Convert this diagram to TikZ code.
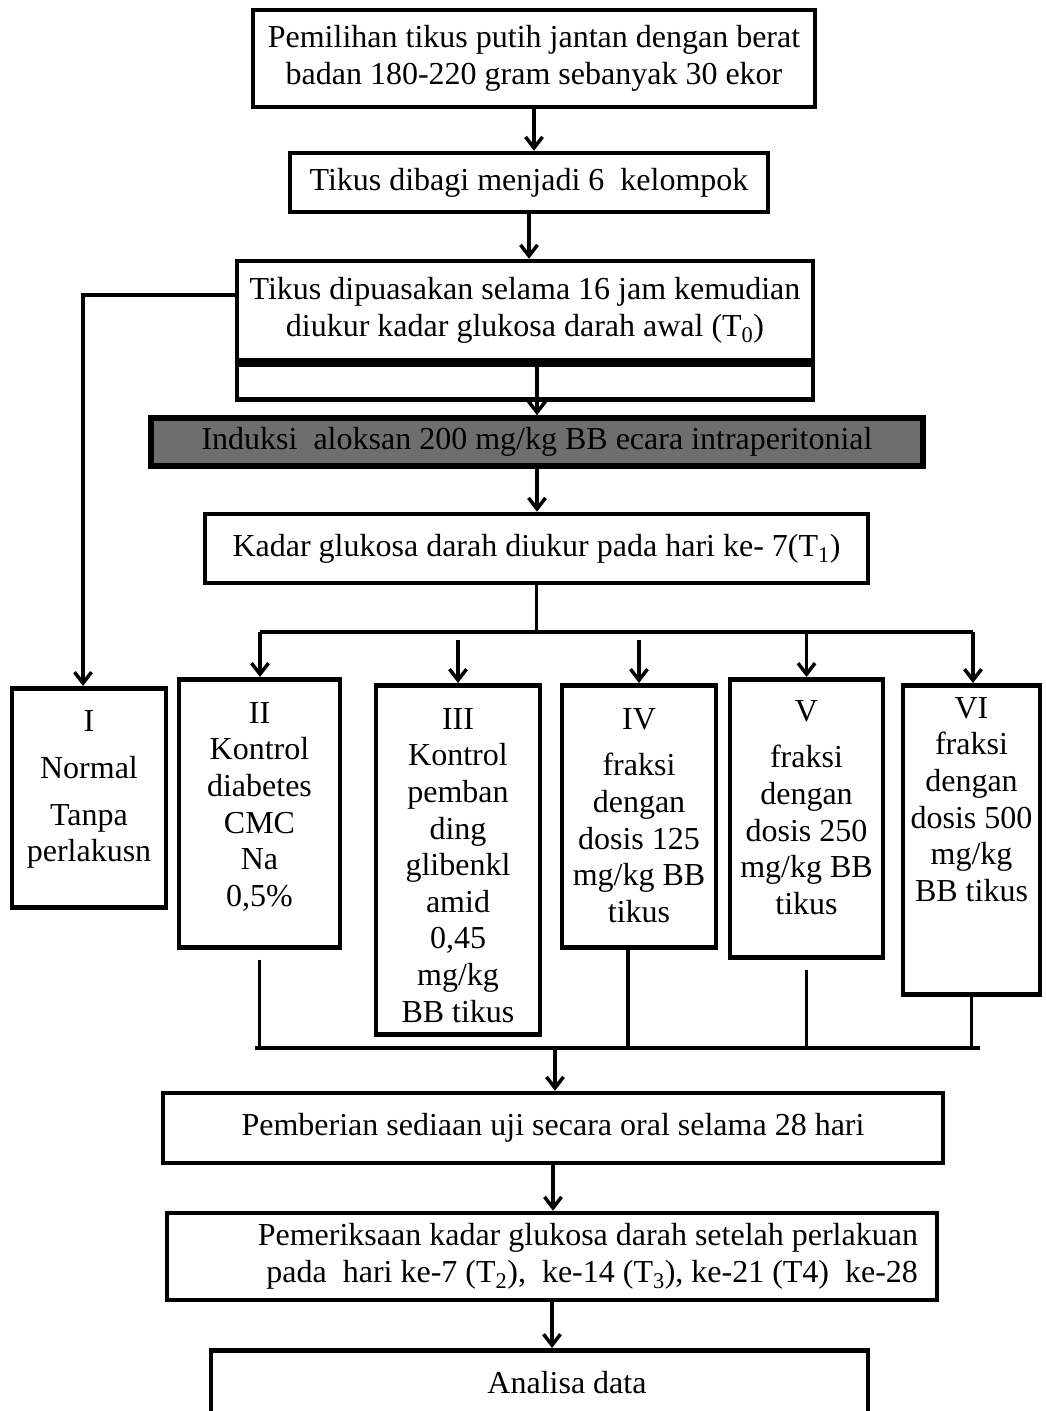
\documentclass[tikz,border=0pt]{standalone}
\usepackage{fontspec}
\setmainfont{Liberation Serif}
\usepackage{tikz}
\usetikzlibrary{arrows.meta}
\definecolor{induksigray}{HTML}{6E6E6E}
% text of a group box, set from the top: height, width, first baseline, lines
\newcommand{\grptext}[4]{\parbox[c][#1][t]{#2}{\centering\rule{0pt}{#3}#4}}
\tikzset{
    every node/.style={ % Same font for every box
        font=\fontsize{32}{36.6}\selectfont
    },
    box/.style={ % Sets the properties for each box
        draw,
        line width=4.5pt,
        align=center,
        inner sep=0pt
    },
    grpbox/.style={ % the six groups hang from their top
        box,
        anchor=north
    },
    flow/.style={ % Sets the properties for each connector
        draw,
        line width=3.5pt
    },
    >={Straight Barb[length=11pt,width=17pt]}
}

\begin{document}
\begin{tikzpicture}[x=1pt, y=-1pt]
    \clip (0,0) rectangle (1045,1411);

    \node[box, minimum width=562pt, minimum height=97pt] (sel) at (534,58.5) {Pemilihan tikus putih jantan dengan berat\\badan 180-220 gram sebanyak 30 ekor};
    \node[box, minimum width=478pt, minimum height=59pt] (bagi) at (529,182.5) {Tikus dibagi menjadi 6\ \ kelompok};
    \node[box, minimum width=576pt, minimum height=99pt] (puasa) at (525,310.5) {Tikus dipuasakan selama 16 jam kemudian\\diukur kadar glukosa darah awal (T\textsubscript{0})};
    \node[box, minimum width=576pt, minimum height=35pt, anchor=north] (puasab) at (puasa.south) {};
    \node[box, fill=induksigray, line width=5.5pt, minimum width=772pt, minimum height=48pt] (induksi) at (537,442) {Induksi\ \ aloksan 200 mg/kg BB ecara intraperitonial};
    \node[box, minimum width=663pt, minimum height=69pt] (kadar) at (536.5,548.5) {Kadar glukosa darah diukur pada hari ke- 7(T\textsubscript{1})};

    % groups
    \node[grpbox] (g1) at (89,686) {\grptext{219pt}{154pt}{43pt}{I\\[10.4pt]Normal\\[10.4pt]Tanpa\\perlakusn}};
    \node[grpbox] (g2) at (259.5,677) {\grptext{268pt}{161pt}{44pt}{II\\Kontrol\\diabetes\\CMC\\Na\\0,5\%}};
    \node[grpbox] (g3) at (458,683) {\grptext{349pt}{164pt}{44pt}{III\\Kontrol\\pemban\\ding\\glibenkl\\amid\\0,45\\mg/kg\\BB tikus}};
    \node[grpbox] (g4) at (639,683) {\grptext{262pt}{154pt}{44pt}{IV\\[10pt]fraksi\\dengan\\dosis 125\\mg/kg BB\\tikus}};
    \node[grpbox] (g5) at (806.5,677) {\grptext{278pt}{153pt}{42pt}{V\\[10pt]fraksi\\dengan\\dosis 250\\mg/kg BB\\tikus}};
    \node[grpbox] (g6) at (971.5,683) {\grptext{309pt}{137pt}{33pt}{VI\\fraksi\\dengan\\dosis 500\\mg/kg\\BB tikus}};

    \node[box, minimum width=780pt, minimum height=70pt] (beri) at (553,1128) {Pemberian sediaan uji secara oral selama 28 hari};
    \node[box, minimum width=770pt, minimum height=87pt] (periksa) at (552,1256.5) {\parbox{732pt}{\raggedleft Pemeriksaan kadar glukosa darah setelah perlakuan\\pada\ \ hari ke-7 (T\textsubscript{2}),\ \ ke-14 (T\textsubscript{3}), ke-21 (T4)\ \ ke-28}};
    \node[grpbox] (analisa) at (539.5,1348) {\grptext{80pt}{657pt}{43pt}{\hspace*{55pt}Analisa data}};

    \coordinate (lft) at (83,295);
    \coordinate (cab) at (536.5,632);
    \coordinate (cabL) at (260,632);
    \coordinate (cabR) at (973,632);
    \coordinate (joinL) at (255,1048);
    \coordinate (joinR) at (980,1048);
    \coordinate (join) at (555,1048);

    \draw[flow,->] (sel.south) -- (sel.south |- bagi.north);
    \draw[flow,->] (bagi.south) -- (bagi.south |- puasa.north);
    \draw[flow,->] ([xshift=12pt]puasa.south) -- ([xshift=12pt]puasa.south |- induksi.north);
    \draw[flow,->] (induksi.south) -- (induksi.south |- kadar.north);
    \draw[flow,->] ([yshift=15.5pt]puasa.west) -- (lft) -- (lft |- g1.north);

    \draw[flow] (kadar.south) -- (cab);
    \draw[flow] (cabL) -- (cabR);
    \draw[flow,->] (cabL) -- (cabL |- g2.north);
    \draw[flow,->] ([yshift=-8pt]cab -| g3.north) -- (g3.north);
    \draw[flow,->] ([yshift=-8pt]cab -| g4.north) -- (g4.north);
    \draw[flow,->] (cab -| g5.north) -- (g5.north);
    \draw[flow,->] (cabR) -- (cabR |- g6.north);

    \draw[flow] ([yshift=-10pt]g2.south) -- (g2.south |- joinL);
    \draw[flow] ([xshift=-11pt]g4.south) -- ([xshift=-11pt]g4.south |- joinL);
    \draw[flow] ([yshift=-10pt]g5.south) -- (g5.south |- joinL);
    \draw[flow] (g6.south) -- (g6.south |- joinL);
    \draw[flow] (joinL) -- (joinR);

    \draw[flow,->] (join) -- (join |- beri.north);
    \draw[flow,->] (beri.south) -- (beri.south |- periksa.north);
    \draw[flow,->] (periksa.south) -- (periksa.south |- analisa.north);
\end{tikzpicture}
\end{document}
